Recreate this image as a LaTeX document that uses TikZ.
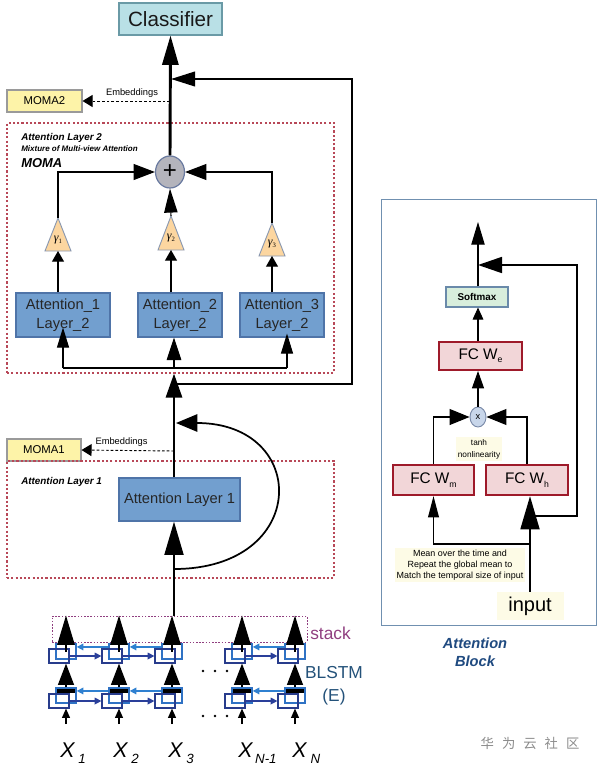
\documentclass[tikz,border=0pt]{standalone}
\usepackage{fontspec}
\setmainfont{Liberation Sans}
\newfontfamily\cjkfont{Noto Sans CJK SC}
\newfontfamily\greekfont{Liberation Serif}
\usetikzlibrary{arrows.meta,shapes.geometric}
\definecolor{clsfill}{HTML}{B9E0E6}
\definecolor{clsdraw}{HTML}{6A9AA6}
\definecolor{momafill}{HTML}{FDF3A8}
\definecolor{momadraw}{HTML}{9A9A9A}
\definecolor{framec}{HTML}{B84858}
\definecolor{attfill}{HTML}{729FCF}
\definecolor{attdraw}{HTML}{4F74A8}
\definecolor{plusfill}{HTML}{B4B4BC}
\definecolor{plusdraw}{HTML}{6A7AA0}
\definecolor{gamfill}{HTML}{FCD6A0}
\definecolor{gamdraw}{HTML}{8A98B0}
\definecolor{frontc}{HTML}{283C8C}
\definecolor{backc}{HTML}{2F72C4}
\definecolor{fwdc}{HTML}{2A3F9A}
\definecolor{bwdc}{HTML}{2F80D0}
\definecolor{stackc}{HTML}{903F80}
\definecolor{blstmc}{HTML}{24527A}
\definecolor{blkdraw}{HTML}{7090B0}
\definecolor{smfill}{HTML}{D8EEDC}
\definecolor{smdraw}{HTML}{6A8AAA}
\definecolor{fcfill}{HTML}{F2D6D8}
\definecolor{fcdraw}{HTML}{9E1A2A}
\definecolor{xcfill}{HTML}{C8D6EA}
\definecolor{xcdraw}{HTML}{7A8AA8}
\definecolor{paley}{HTML}{FDFBE6}
\definecolor{abtext}{HTML}{1F4A80}
\begin{document}
\begin{tikzpicture}[x=0.75pt,y=-0.75pt,
  tip/.style 2 args={-{Triangle[length=#1,width=#2]}},
  box/.style={draw, rectangle, inner sep=0pt, line width=0.8pt, align=center},
  attbox/.style={box, fill=attfill, draw=attdraw, text=black!85, font=\fontsize{11}{14}\selectfont},
  momabox/.style={box, fill=momafill, draw=momadraw, font=\fontsize{8.5}{10}\selectfont},
  framebox/.style={draw=framec, line width=0.85pt, dash pattern=on 1.6pt off 1.6pt, rectangle, inner sep=0pt},
  fcbox/.style={box, fill=fcfill, draw=fcdraw, line width=1.5pt, font=\fontsize{11.5}{13}\selectfont},
  gam/.style={draw=gamdraw, fill=gamfill, line width=0.7pt},
  thickl/.style={line width=2.2pt},
  medl/.style={line width=1.3pt},
  thinl/.style={line width=0.8pt},
  dashl/.style={line width=0.7pt, dash pattern=on 2pt off 1.5pt},
  lbl/.style={inner sep=0pt},
  bititle/.style={inner sep=0pt, anchor=west, font=\bfseries\itshape\fontsize{7.4}{9}\selectfont},
  backsq/.style={draw=backc, line width=1.1pt, rectangle, inner sep=0pt, minimum width=20*0.75pt, minimum height=15*0.75pt},
  frontsq/.style={draw=frontc, line width=0.9pt, rectangle, inner sep=0pt, minimum width=20*0.75pt, minimum height=14*0.75pt},
  fwd/.style={draw=fwdc, line width=0.9pt, -{Triangle[length=5pt,width=5pt]}},
  bwd/.style={draw=bwdc, line width=0.9pt, -{Triangle[length=5pt,width=5pt]}},
  blkarrow/.style={line width=1pt}
]
\fill[white] (0,0) rectangle (599,767);
\useasboundingbox (0,0) rectangle (599,767);

% ---------- top part ----------
\node[box, fill=clsfill, draw=clsdraw, minimum width=103*0.75pt, minimum height=32*0.75pt, text=black!90, font=\fontsize{15.5}{18}\selectfont] (cls) at (170.5,19) {Classifier};
\node[momabox, minimum width=75*0.75pt, minimum height=22*0.75pt] (moma2) at (44.5,101) {MOMA2};
\node[lbl, font=\fontsize{7}{8}\selectfont] (emb2) at (132,93) {Embeddings};

\node[framebox, minimum width=327*0.75pt, minimum height=250*0.75pt] (fr2) at (170.5,248) {};
\node[bititle] (t2a) at (21,137.5) {Attention Layer 2};
\node[bititle, font=\bfseries\itshape\fontsize{6}{7}\selectfont] (t2b) at (21,149) {Mixture of Multi-view Attention};
\node[bititle, font=\bfseries\itshape\fontsize{9.7}{11}\selectfont] (t2c) at (21,163) {MOMA};

\node[ellipse, draw=plusdraw, fill=plusfill, line width=0.9pt, minimum width=29*0.75pt, minimum height=32*0.75pt, inner sep=0pt, font=\fontsize{18}{18}\selectfont] (plus) at (170,172) {+};

% gammas
\draw[gam] (58,218) -- (71,251) -- (45,251) -- cycle;
\draw[gam] (171,216) -- (184,250) -- (158,250) -- cycle;
\draw[gam] (272,223) -- (285,256) -- (259,256) -- cycle;
\coordinate (g1t) at (58,218); \coordinate (g1b) at (58,251);
\coordinate (g2t) at (171,216); \coordinate (g2b) at (171,250);
\coordinate (g3t) at (272,223); \coordinate (g3b) at (272,256);
\node[lbl, font=\greekfont\itshape\fontsize{9}{9}\selectfont] (gl1) at (58,240) {γ\raisebox{-1.5pt}{\fontsize{5}{5}\selectfont\upshape 1}};
\node[lbl, font=\greekfont\itshape\fontsize{9}{9}\selectfont] (gl2) at (171,238) {γ\raisebox{-1.5pt}{\fontsize{5}{5}\selectfont\upshape 2}};
\node[lbl, font=\greekfont\itshape\fontsize{9}{9}\selectfont] (gl3) at (272,244) {γ\raisebox{-1.5pt}{\fontsize{5}{5}\selectfont\upshape 3}};

\node[attbox, minimum width=94*0.75pt, minimum height=44*0.75pt] (att1) at (63,315) {Attention\_1\\Layer\_2};
\node[attbox, minimum width=84*0.75pt, minimum height=44*0.75pt] (att2) at (180,315) {Attention\_2\\Layer\_2};
\node[attbox, minimum width=84*0.75pt, minimum height=44*0.75pt] (att3) at (282,315) {Attention\_3\\Layer\_2};

\coordinate (j1) at (174,368);
\coordinate (j2) at (174,384);
\coordinate (rc) at (352,79);
\coordinate (t1) at (171,79);
\coordinate (e2) at (170,101);
\coordinate (d1) at (63,368);
\coordinate (d3) at (287,368);

\draw[thickl, tip={22pt}{12pt}] (plus.north) -- (cls.south);
\draw[medl, tip={18pt}{11pt}] (j2) -| (rc) -- (t1);
\draw[dashl, tip={7.5pt}{9pt}] (e2) -- (moma2.east);
\draw[thinl, tip={16pt}{12pt}] (g1t) |- (plus.west);
\draw[thinl, tip={16pt}{12pt}] (g3t) |- (plus.east);
\draw[thinl, tip={18pt}{10pt}] (g2t) -- (plus.south);
\draw[thinl, tip={8pt}{9pt}] (att1.north -| g1b) -- (g1b);
\draw[thinl, tip={8pt}{9pt}] (att2.north -| g2b) -- (g2b);
\draw[thinl, tip={8pt}{9pt}] (att3.north -| g3b) -- (g3b);
\draw[thinl] (d1) -- (d3);
\draw[thinl, tip={15pt}{9pt}] (d1) -- ([yshift=7.5pt]att1.south);
\draw[thinl, tip={17pt}{11pt}] (j1) -- (j1 |- att2.south);
\draw[thinl, tip={15pt}{9pt}, shorten >=-3pt] (d3) -- (d3 |- att3.south);

% ---------- attention layer 1 ----------
\node[momabox, minimum width=74*0.75pt, minimum height=22*0.75pt] (moma1) at (44,450) {MOMA1};
\node[lbl, font=\fontsize{7}{8}\selectfont] (emb1) at (121.5,442) {Embeddings};
\node[framebox, minimum width=327*0.75pt, minimum height=117*0.75pt] (fr1) at (170.5,519.5) {};
\node[bititle] (t1a) at (21,481.5) {Attention Layer 1};
\node[attbox, minimum width=121*0.75pt, minimum height=43*0.75pt] (al1) at (179.5,499.5) {Attention Layer 1};

\coordinate (e1) at (174,451);
\coordinate (j3) at (174,569);
\coordinate (j4) at (176,423);
\draw[thickl, tip={18pt}{12pt}] (j1 |- al1.north) -- (j1 |- fr2.south);
\draw[dashl, tip={7.5pt}{9pt}] (e1) -- (moma1.east);
\draw[medl, tip={16pt}{13pt}] (j3) .. controls (310,569) and (310,423) .. (j4);

% ---------- BLSTM ----------
\node[draw=stackc, line width=0.7pt, dash pattern=on 1.2pt off 1.2pt, rectangle, inner sep=0pt, minimum width=255*0.75pt, minimum height=26*0.75pt] (stack) at (179.5,629) {};
\node[lbl, anchor=west, text=stackc, font=\fontsize{13}{13}\selectfont] (stk) at (310,633) {stack};
\node[lbl, align=center, text=blstmc, font=\fontsize{13}{17}\selectfont] (blstm) at (334,686) {BLSTM\\(E)};

\draw[thickl, tip={25pt}{14pt}] (j1 |- stack.north) -- (j1 |- al1.south);

\foreach \i/\c in {1/66,2/119,3/172,4/242,5/295} {
  \node[backsq] (tb\i) at (\c,651.5) {};
  \node[frontsq] (tf\i) at (\c-7,656) {};
  \node[backsq] (bb\i) at (\c,695.5) {};
  \node[frontsq] (bf\i) at (\c-7,701) {};
}
\foreach \a/\b in {1/2,2/3,4/5} {
  \draw[fwd] (tf\a.east) -- (tf\b.west);
  \draw[bwd] ([yshift=3.4pt]tb\b.west) -- ([yshift=3.4pt]tb\a.east);
  \draw[fwd] (bf\a.east) -- (bf\b.west);
  \draw[bwd] ([yshift=3.4pt]bb\b.west) -- ([yshift=3.4pt]bb\a.east);
}
\foreach \i/\c in {1/66,2/119,3/172,4/242,5/295} {
  \draw[blkarrow, tip={22pt}{13pt}] (tb\i.center) -- (stack.north -| tb\i.center);
  \fill (\c-9,689) rectangle (\c+9,693);
  \draw[blkarrow, tip={16pt}{12pt}] (bb\i.north) -- (tf\i.south -| bb\i.north);
  \coordinate (xa\i) at (\c,724);
  \draw[thinl, tip={7pt}{6pt}] (xa\i) -- (bf\i.south -| bb\i.center);
}
\foreach \x in {203,215,227} {
  \fill (\x,671) circle (1.3);
  \fill (\x,716) circle (1.3);
}
\node[lbl, anchor=base west, font=\itshape\fontsize{16}{16}\selectfont] (x1) at (60,757) {X\hspace{3pt}\raisebox{-5pt}{\fontsize{10}{10}\selectfont 1}};
\node[lbl, anchor=base west, font=\itshape\fontsize{16}{16}\selectfont] (x2) at (113,757) {X\hspace{3pt}\raisebox{-5pt}{\fontsize{10}{10}\selectfont 2}};
\node[lbl, anchor=base west, font=\itshape\fontsize{16}{16}\selectfont] (x3) at (168,757) {X\hspace{3pt}\raisebox{-5pt}{\fontsize{10}{10}\selectfont 3}};
\node[lbl, anchor=base west, font=\itshape\fontsize{16}{16}\selectfont] (x4) at (238,757) {X\hspace{2pt}\raisebox{-5pt}{\fontsize{10}{10}\selectfont N-1}};
\node[lbl, anchor=base west, font=\itshape\fontsize{16}{16}\selectfont] (x5) at (292,757) {X\hspace{3pt}\raisebox{-5pt}{\fontsize{10}{10}\selectfont N}};

% ---------- attention block ----------
\node[draw=blkdraw, line width=0.7pt, rectangle, inner sep=0pt, minimum width=215*0.75pt, minimum height=426*0.75pt] (blk) at (488.5,412) {};
\node[box, fill=smfill, draw=smdraw, minimum width=62*0.75pt, minimum height=20*0.75pt, font=\bfseries\fontsize{7.4}{9}\selectfont] (sm) at (477,297) {Softmax};
\node[fcbox, minimum width=83*0.75pt, minimum height=28*0.75pt] (fcwe) at (480.5,356) {FC W\raisebox{-2.5pt}{\fontsize{6.5}{6.5}\selectfont e}};
\node[ellipse, draw=xcdraw, fill=xcfill, line width=0.7pt, minimum width=16*0.75pt, minimum height=20*0.75pt, inner sep=0pt, font=\fontsize{7}{7}\selectfont] (xc) at (478,417) {x};
\node[fcbox, minimum width=81*0.75pt, minimum height=30*0.75pt] (fcwm) at (433.5,480) {FC W\raisebox{-2.5pt}{\fontsize{6.5}{6.5}\selectfont m}};
\node[fcbox, minimum width=82*0.75pt, minimum height=30*0.75pt] (fcwh) at (527,480) {FC W\raisebox{-2.5pt}{\fontsize{6.5}{6.5}\selectfont h}};
\node[fill=paley, inner sep=1.5pt, align=center, font=\fontsize{6.2}{9}\selectfont] (tanh) at (479,449) {tanh\\nonlinearity};
\node[fill=paley, inner sep=1.5pt, align=center, font=\fontsize{6.7}{8.25}\selectfont] (mean) at (460,565) {Mean over the time and\\Repeat the global mean to\\Match the temporal size of input};
\node[fill=paley, inner sep=0pt, minimum width=67*0.75pt, minimum height=28*0.75pt, font=\fontsize{15}{15}\selectfont] (inp) at (530,606) {input};
\node[align=center, inner sep=0pt, text=abtext, font=\bfseries\itshape\fontsize{11}{13.5}\selectfont] (ab) at (475,652) {Attention\\Block};

\coordinate (top) at (478,222);
\coordinate (rr) at (577,265);
\coordinate (rt) at (478,265);
\coordinate (rin) at (530,516);
\coordinate (mj) at (530,544);
\draw[thinl, tip={17pt}{10pt}] (sm.north -| top) -- (top);
\draw[medl, tip={18pt}{12pt}] (rin) -| (rr) -- (rt);
\draw[thinl, tip={9pt}{8pt}] (fcwe.north -| top) -- (sm.south -| top);
\draw[thinl, tip={13pt}{9pt}] (xc.north) -- (fcwe.south -| xc);
\draw[thinl, tip={15pt}{12pt}] (fcwm.north) |- (xc.west);
\draw[thinl, tip={15pt}{12pt}] (fcwh.north) |- (xc.east);
\draw[medl, tip={16pt}{8pt}] (mj) -| (fcwm.south);
\draw[thickl, tip={25pt}{14pt}] (inp.north) -- (inp.north |- fcwh.south);

\node[text=black!45, font=\cjkfont\fontsize{10}{10}\selectfont] (wm) at (530,743) {华\hspace{6pt}为\hspace{6pt}云\hspace{6pt}社\hspace{6pt}区};
\end{tikzpicture}
\end{document}
